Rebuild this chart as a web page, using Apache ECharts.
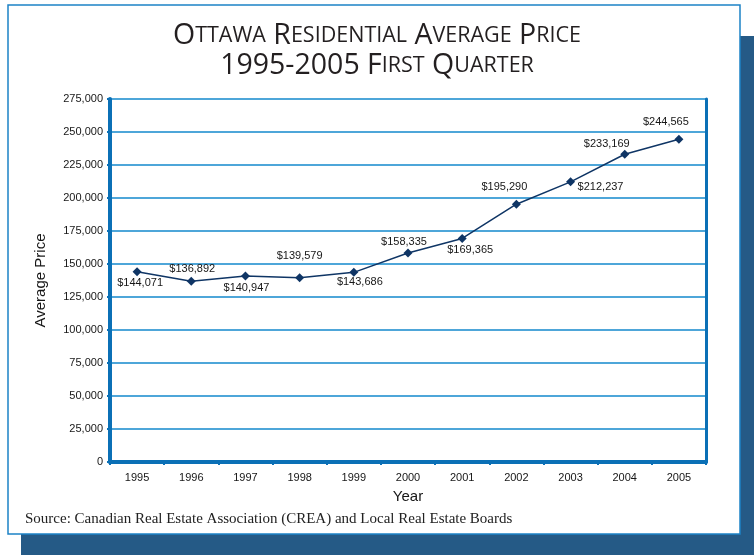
<!DOCTYPE html>
<html>
<head>
<meta charset="utf-8">
<script src="https://cdn.jsdelivr.net/npm/echarts@6/dist/echarts.min.js"></script>
<style>
  html, body { margin: 0; padding: 0; background: #fff; }
  #chart { width: 754px; height: 555px; }
</style>
</head>
<body>
<div id="chart"></div>
<script>
// data
var years = ['1995', '1996', '1997', '1998', '1999', '2000', '2001', '2002', '2003', '2004', '2005'];
var prices = [144071, 136892, 140947, 139579, 143686, 158335, 169365, 195290, 212237, 233169, 244565];
var yTicks = [0, 25000, 50000, 75000, 100000, 125000, 150000, 175000, 200000, 225000, 250000, 275000];

// where each price label sits relative to its point (styling only)
var labelShift = [[3, 11], [1, -12], [1, 12], [0, -22], [6, 10], [-4, -11], [8, 12], [-12, -17], [30, 5], [-18, -10], [-13, -17]];

var axisBlue = '#0b70b6';
var gridBlue = '#4ea6d9';
var navy = '#0f3565';
var txt = '#161616';

function fmt(v) {
  return v.toString().replace(/\B(?=(\d{3})+(?!\d))/g, ',');
}

// small-caps title built as rich text
function smallCaps(line) {
  return line.split(' ').map(function (w) {
    if (/^[0-9\-]+$/.test(w)) return '{big|' + w + '}';
    return '{big|' + w.charAt(0) + '}{sm|' + w.slice(1).toUpperCase() + '}';
  }).join('{big| }');
}

var chart = echarts.init(document.getElementById('chart'));

var seriesData = prices.map(function (v, i) {
  return {
    value: v,
    label: { offset: labelShift[i] }
  };
});

var titleFont = '"Open Sans"';

var option = {
  backgroundColor: '#fff',
  animation: false,
  graphic: [
    { type: 'rect', z: -10, shape: { x: 21, y: 36, width: 760, height: 560 }, style: { fill: '#255a86' } },
    { type: 'rect', z: -9, shape: { x: 8, y: 5, width: 732, height: 529 }, style: { fill: '#fff', stroke: '#1d82c6', lineWidth: 1.5 } },
    {
      type: 'text', left: 25, top: 512,
      style: {
        text: 'Source: Canadian Real Estate Association (CREA) and Local Real Estate Boards',
        font: '15px "Liberation Serif", serif', fill: '#222'
      }
    }
  ],
  title: {
    text: smallCaps('Ottawa Residential Average Price') + '\n' + smallCaps('1995-2005 First Quarter'),
    left: 'center',
    top: 16,
    textStyle: {
      fontFamily: titleFont,
      fontWeight: 500,
      color: '#231f20',
      lineHeight: 30,
      rich: {
        big: { fontFamily: titleFont, fontWeight: 500, fontSize: 28.5, color: '#231f20', lineHeight: 30 },
        sm: { fontFamily: titleFont, fontWeight: 500, fontSize: 21.5, color: '#231f20', lineHeight: 30 }
      }
    }
  },
  grid: { left: 110, right: 48, top: 99, bottom: 93 },
  xAxis: {
    type: 'category',
    data: years,
    boundaryGap: true,
    name: 'Year',
    nameLocation: 'middle',
    nameGap: 27,
    nameTextStyle: { fontFamily: 'Liberation Sans', fontSize: 15, color: txt },
    axisLine: { lineStyle: { color: axisBlue, width: 4 } },
    axisTick: { show: true, length: 3, lineStyle: { color: axisBlue, width: 2 } },
    axisLabel: { fontFamily: 'Liberation Sans', fontSize: 11, color: txt, margin: 10 }
  },
  yAxis: [{
    type: 'value',
    min: 0,
    max: yTicks[yTicks.length - 1],
    interval: yTicks[1] - yTicks[0],
    name: 'Average Price',
    nameLocation: 'middle',
    nameGap: 62,
    nameTextStyle: { fontFamily: 'Liberation Sans', fontSize: 15, color: txt },
    axisLine: { show: true, lineStyle: { color: axisBlue, width: 4 } },
    axisTick: { show: true, length: 3, lineStyle: { color: axisBlue, width: 2 } },
    axisLabel: { fontFamily: 'Liberation Sans', fontSize: 11, color: txt, margin: 7, formatter: fmt },
    splitLine: { show: true, lineStyle: { color: gridBlue, width: 2 } }
  }, {
    type: 'value',
    position: 'right',
    min: 0,
    max: yTicks[yTicks.length - 1],
    axisLine: { show: true, lineStyle: { color: axisBlue, width: 3 } },
    axisTick: { show: false },
    axisLabel: { show: false },
    splitLine: { show: false }
  }],
  series: [{
    type: 'line',
    data: seriesData,
    symbol: 'diamond',
    symbolSize: 9,
    lineStyle: { color: navy, width: 1.5 },
    itemStyle: { color: navy },
    label: {
      show: true,
      position: 'inside',
      fontFamily: 'Liberation Sans',
      fontSize: 11,
      color: txt,
      formatter: function (p) { return '$' + fmt(p.value); }
    }
  }]
};

chart.setOption(option);
</script>
</body>
</html>
